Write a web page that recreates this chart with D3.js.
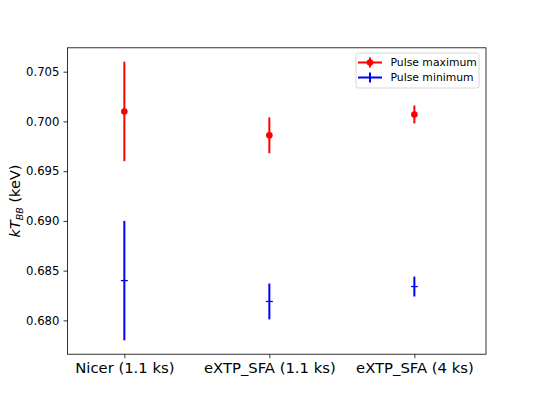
<!DOCTYPE html>
<html>
<head>
<meta charset="utf-8">
<script src="https://cdn.jsdelivr.net/npm/d3@7"></script>
<style>
  body { margin: 0; background: #fff; }
  svg { font-family: "DejaVu Sans", sans-serif; }
  .axis path, .axis line { stroke: #000; stroke-width: 0.8; }
  .axis text { fill: #000; }
</style>
</head>
<body>
<svg width="540" height="398"></svg>
<script>
const categories = ['Nicer (1.1 ks)', 'eXTP_SFA (1.1 ks)', 'eXTP_SFA (4 ks)']
const maxValues = [0.7010, 0.6986, 0.7007]
const maxErrors = [0.0050, 0.0018, 0.0009]
const minValues = [0.6840, 0.6819, 0.6834]
const minErrors = [0.0060, 0.0018, 0.0010]
const yTicks = [0.680, 0.685, 0.690, 0.695, 0.700, 0.705]

const svg = d3.select('svg'),
  margin = {top:47.8,right:54,bottom:43.8,left:67.5},
  width = svg.attr('width') - margin.left - margin.right,
  height = svg.attr('height') - margin.top - margin.bottom

const container = svg.append('g')
  .attr('transform',`translate(${margin.left},${margin.top})`)

const x = d3.scaleLinear().domain([-0.392,2.494]).range([0,width])
const y = d3.scaleLinear().domain([0.6766,0.7074]).range([height,0])

const xAxis = container.append('g')
  .attr('class','axis axis--x')
  .attr('transform',`translate(0,${height})`)
  .call(d3.axisBottom(x).tickValues([0,1,2]).tickFormat(i => categories[i]).tickSize(4).tickPadding(4))
xAxis.select('.domain').remove()
xAxis.selectAll('text').attr('font-size',14.8).attr('font-family','DejaVu Sans')

const yAxis = container.append('g')
  .attr('class','axis axis--y')
  .call(d3.axisLeft(y).tickValues(yTicks).tickFormat(d3.format('.3f')).tickSize(4).tickPadding(4))
yAxis.select('.domain').remove()
yAxis.selectAll('text').attr('font-size',11.7).attr('font-family','DejaVu Sans')

container.append('rect')
  .attr('width',width).attr('height',height)
  .attr('fill','none').attr('stroke','#000').attr('stroke-width',0.8)

// y label
svg.append('text')
  .attr('transform',`translate(20,${margin.top+height/2}) rotate(-90)`)
  .attr('text-anchor','middle')
  .attr('font-size',14.5)
  .html('<tspan font-style="italic">kT</tspan><tspan font-style="italic" font-size="9.5" dy="3">BB</tspan><tspan dy="-3"> (keV)</tspan>')

function drawSeries(values, errors, color, marker){
  const g = container.append('g')
  g.selectAll('.err').data(values).enter().append('line')
    .attr('x1',(d,i) => x(i)).attr('x2',(d,i) => x(i))
    .attr('y1',(d,i) => y(d-errors[i])).attr('y2',(d,i) => y(d+errors[i]))
    .attr('stroke',color).attr('stroke-width',2)
  if(marker=='o'){
    g.selectAll('.pt').data(values).enter().append('circle')
      .attr('cx',(d,i) => x(i)).attr('cy',y)
      .attr('r',3.3).attr('fill',color)
  } else {
    g.selectAll('.pt').data(values).enter().append('line')
      .attr('x1',(d,i) => x(i)-3.5).attr('x2',(d,i) => x(i)+3.5)
      .attr('y1',y).attr('y2',y)
      .attr('stroke',color).attr('stroke-width',1.3)
  }
}
drawSeries(maxValues,maxErrors,'#ff0000','o')
drawSeries(minValues,minErrors,'#0000ff','+')

// legend
const legend = svg.append('g').attr('transform','translate(356,53)')
legend.append('rect')
  .attr('width',123).attr('height',35).attr('rx',2.5)
  .attr('fill','#fff').attr('stroke','#d6d6d6').attr('stroke-width',1)
const entries = [
  {label:'Pulse maximum',color:'#ff0000',marker:'o'},
  {label:'Pulse minimum',color:'#0000ff',marker:'+'}
]
entries.forEach((e,i) => {
  const row = legend.append('g').attr('transform',`translate(0,${9.5+i*15})`)
  row.append('line').attr('x1',2).attr('x2',26).attr('y1',0).attr('y2',0)
    .attr('stroke',e.color).attr('stroke-width',2)
  row.append('line').attr('x1',14).attr('x2',14).attr('y1',-5).attr('y2',5)
    .attr('stroke',e.color).attr('stroke-width',2)
  if(e.marker=='o'){
    row.append('circle').attr('cx',14).attr('cy',0).attr('r',3.3).attr('fill',e.color)
  }
  row.append('text').attr('x',34.5).attr('y',0).attr('dy','0.35em')
    .attr('font-size',10.8).text(e.label)
})
</script>
</body>
</html>
